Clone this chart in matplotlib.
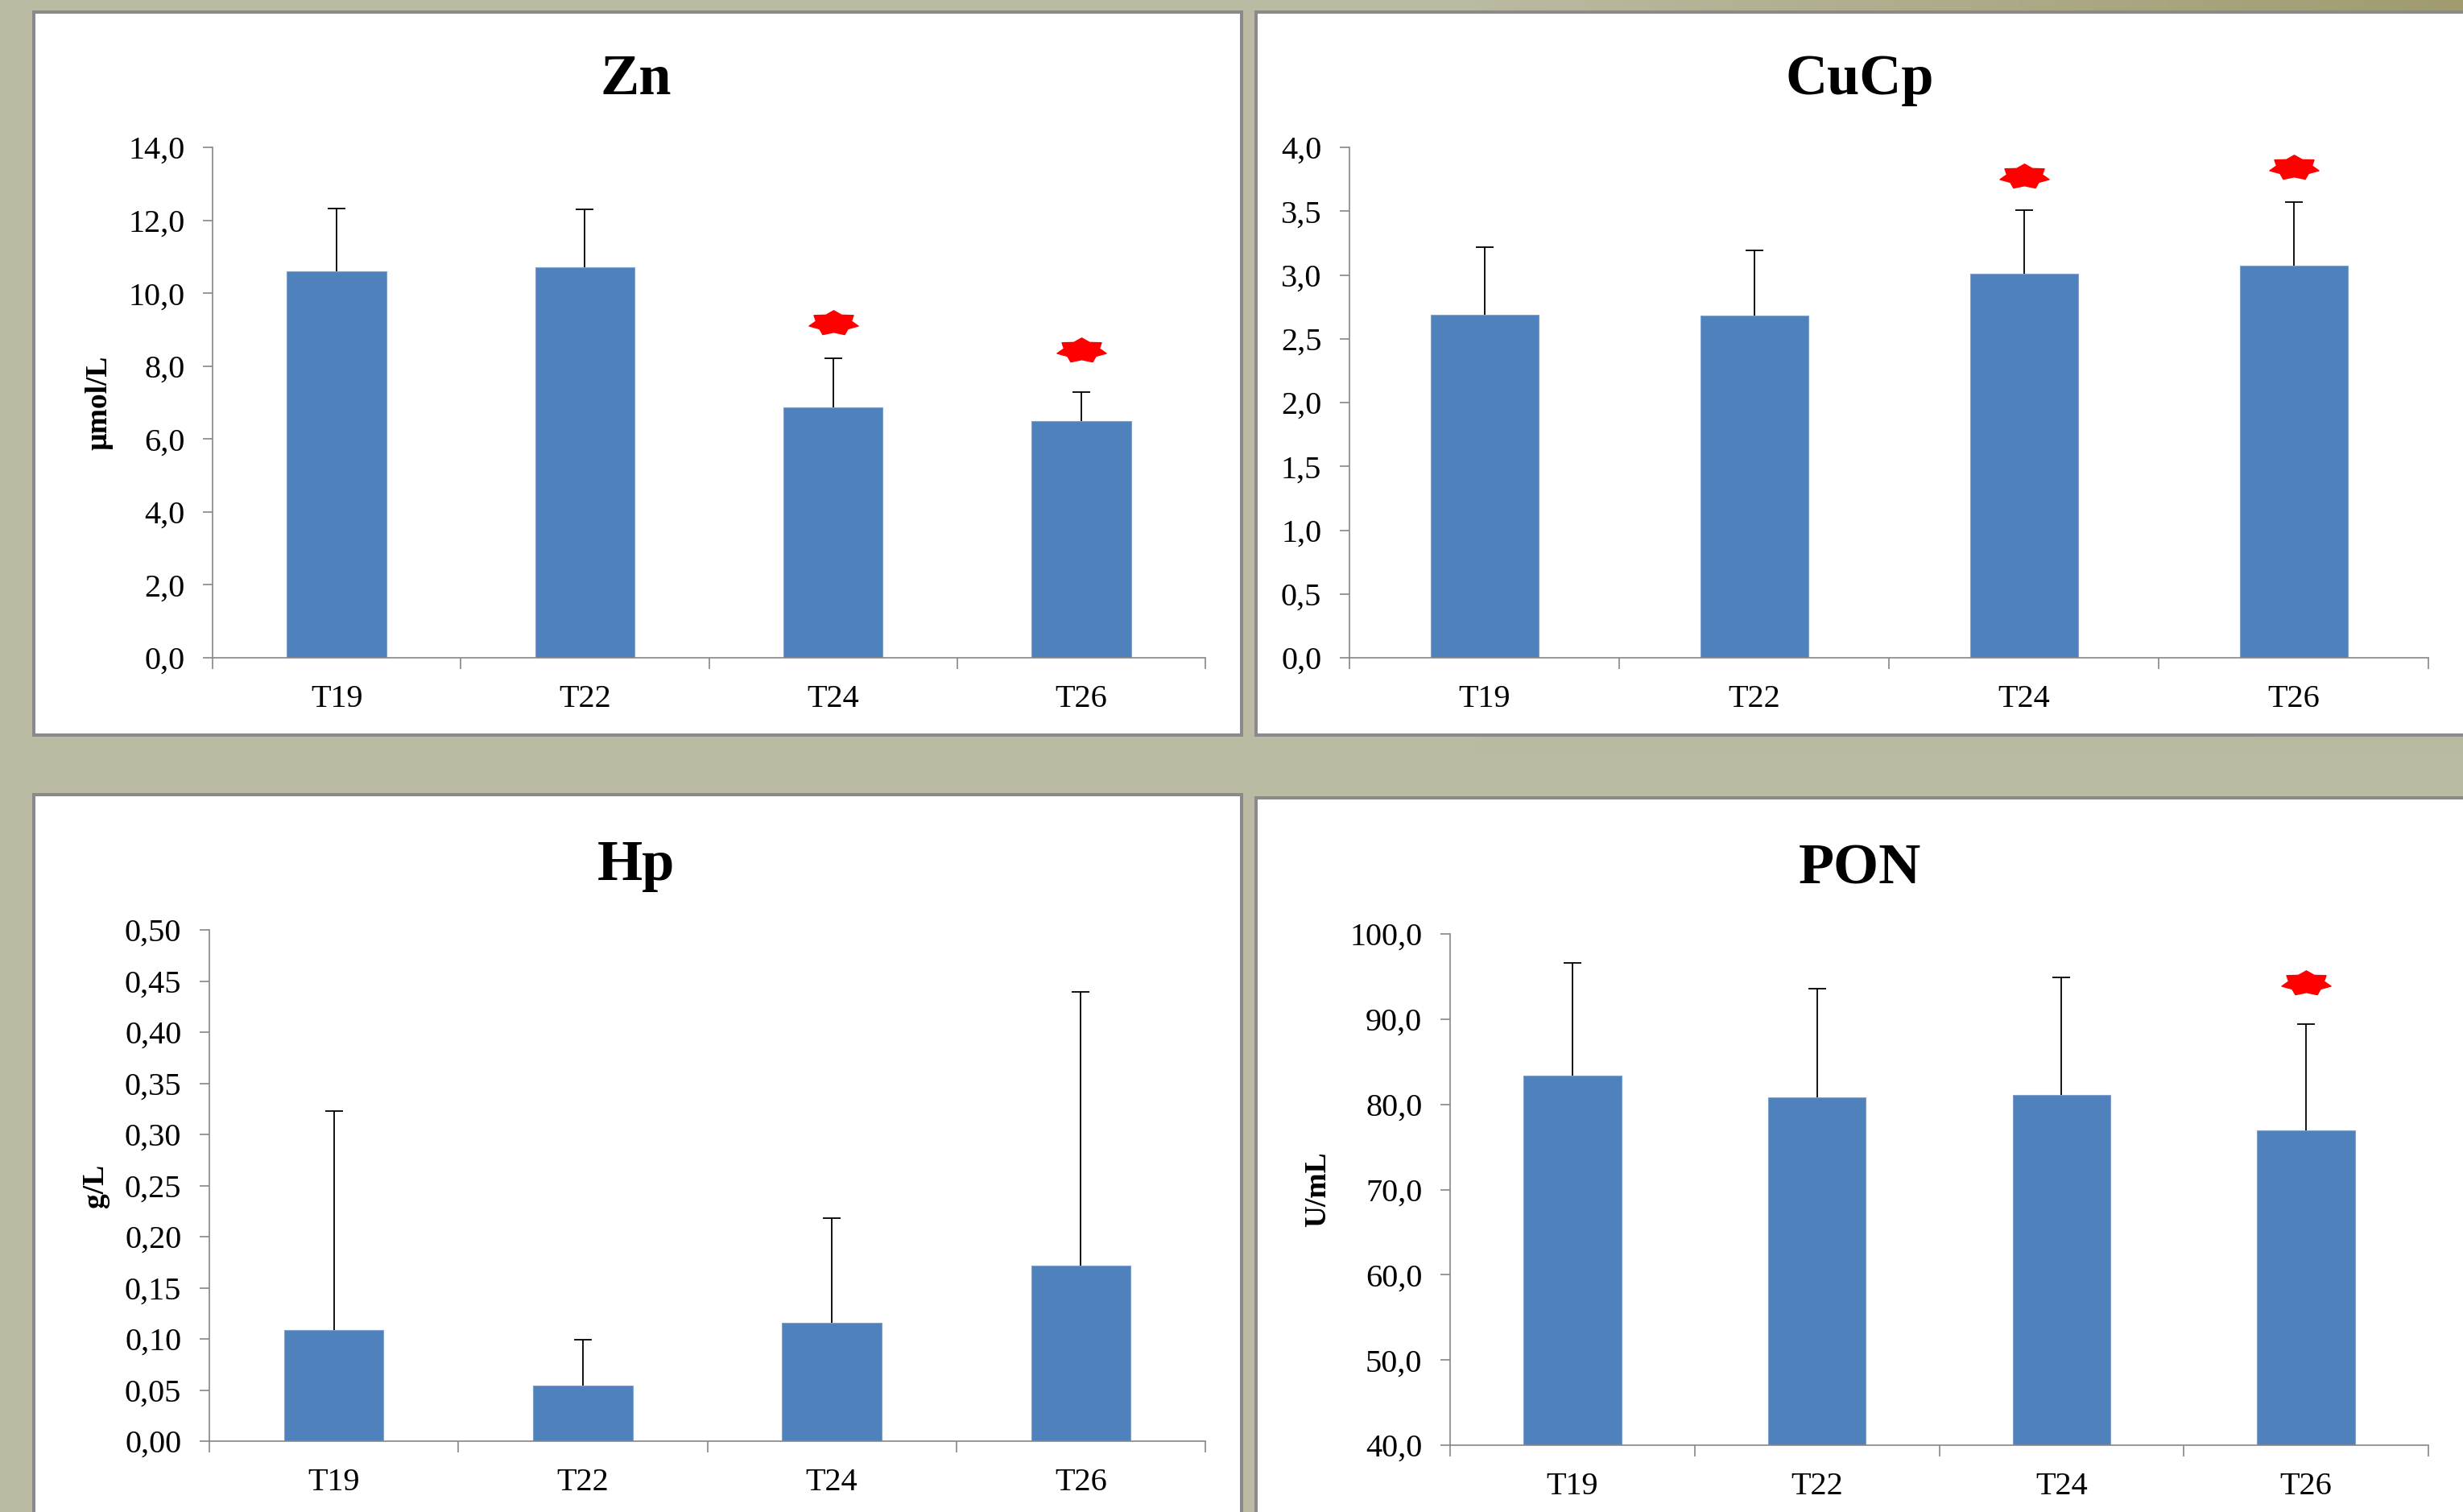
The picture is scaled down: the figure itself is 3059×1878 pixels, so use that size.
import numpy as np
import matplotlib
matplotlib.use("Agg")
import matplotlib.pyplot as plt
from matplotlib.patches import Rectangle
from matplotlib.path import Path
from matplotlib.ticker import FixedLocator, FuncFormatter

# ---------------- data ----------------
categories = ["T19", "T22", "T24", "T26"]

zn_mean = [10.61, 10.70, 6.86, 6.50]
zn_sd = [1.71, 1.59, 1.36, 0.79]
zn_star = [None, None, 9.18, 8.44]

cucp_mean = [2.69, 2.68, 3.01, 3.07]
cucp_sd = [0.53, 0.51, 0.50, 0.50]
cucp_star = [None, None, 3.77, 3.84]

hp_mean = [0.109, 0.054, 0.116, 0.172]
hp_sd = [0.214, 0.045, 0.102, 0.267]
hp_star = [None, None, None, None]

pon_mean = [83.4, 80.8, 81.1, 76.9]
pon_sd = [13.2, 12.8, 13.8, 12.5]
pon_star = [None, None, None, 94.2]

zn_ticks = [0, 2, 4, 6, 8, 10, 12, 14]
cucp_ticks = [0, 0.5, 1.0, 1.5, 2.0, 2.5, 3.0, 3.5, 4.0]
hp_ticks = [0, 0.05, 0.10, 0.15, 0.20, 0.25, 0.30, 0.35, 0.40, 0.45, 0.50]
pon_ticks = [40, 50, 60, 70, 80, 90, 100]

# ---------------- style ----------------
W, H = 3059, 1878
DPI = 100
SERIF = ["Liberation Serif", "DejaVu Serif"]
plt.rcParams["font.family"] = SERIF

BAR = "#4F81BD"
AXC = "#868686"

fig = plt.figure(figsize=(W / DPI, H / DPI), dpi=DPI)
fig.patch.set_facecolor("#BCBAA2")

# subtle background gradient (toward olive at top right)
bg = fig.add_axes([0, 0, 1, 1], zorder=-10)
gx = np.linspace(0, 1, 200)
gy = np.linspace(0, 1, 120)
GX, GY = np.meshgrid(gx, gy)
t = np.clip((GX - 0.6) / 0.4, 0, 1) * np.clip((GY - 0.5) / 0.5, 0, 1)
c0 = np.array([187, 186, 162]) / 255.0
c1 = np.array([160, 156, 112]) / 255.0
img = c0[None, None, :] * (1 - t[..., None]) + c1[None, None, :] * t[..., None]
bg.imshow(img, extent=[0, 1, 0, 1], origin="lower", aspect="auto")
bg.set_axis_off()


def px_rect(x0, y0, x1, y1):
    return (x0 / W, 1 - y1 / H, (x1 - x0) / W, (y1 - y0) / H)


# white panels
for (x0, y0, x1, y1) in [(42, 15, 1542, 913), (1560, 15, 3080, 913),
                         (42, 987, 1542, 1900), (1560, 991, 3080, 1900)]:
    fx, fy, fw, fh = px_rect(x0, y0, x1, y1)
    fig.patches.append(Rectangle((fx, fy), fw, fh, transform=fig.transFigure,
                                 facecolor="white", edgecolor="#8A8A8A",
                                 linewidth=2.9, zorder=-5))

# 7-point flattened star marker
ang = np.deg2rad(90 + np.arange(14) * 360 / 14)
rad = np.where(np.arange(14) % 2 == 0, 1.0, 0.72)
sv = np.column_stack([rad * np.cos(ang), 0.5 * rad * np.sin(ang)])
sv = np.vstack([sv, sv[:1]])
star_path = Path(sv, [Path.MOVETO] + [Path.LINETO] * 13 + [Path.CLOSEPOLY])


def panel(rect_px, means, sds, stars, ticks, ylim, fmt, ylabel, lab_x):
    x0, y0, x1, y1 = rect_px
    ax = fig.add_axes(px_rect(x0, y0, x1, y1))
    ax.set_facecolor("none")
    xs = np.arange(len(categories))
    bottom = ylim[0]
    heights = [m - bottom for m in means]
    ax.bar(xs, heights, width=0.4, bottom=bottom, color=BAR,
           edgecolor="#7EA0CC", linewidth=0.8, zorder=2)
    tops = np.array(means) + np.array(sds)
    ax.vlines(xs, means, tops, colors="black", linewidth=1.3, zorder=3)
    ax.plot(xs, tops, marker="_", markersize=16, markeredgewidth=1.3,
            color="black", linestyle="none", zorder=3)
    for x, s in zip(xs, stars):
        if s is not None:
            ax.plot([x], [s], marker=star_path, markersize=44, color="#FF0000",
                    linestyle="none", zorder=4, clip_on=False)
    ax.set_xlim(-0.5, len(categories) - 0.5)
    ax.set_ylim(*ylim)
    for sp in ["top", "right"]:
        ax.spines[sp].set_visible(False)
    for sp in ["left", "bottom"]:
        ax.spines[sp].set_color(AXC)
        ax.spines[sp].set_linewidth(1.2)
    ax.yaxis.set_major_locator(FixedLocator(ticks))
    ax.yaxis.set_major_formatter(FuncFormatter(lambda v, p: fmt.format(v).replace(".", ",")))
    ax.tick_params(axis="y", direction="out", length=9, width=1.2, color=AXC,
                   labelsize=29, pad=16, labelcolor="black")
    ax.set_xticks(np.arange(len(categories) + 1) - 0.5)
    ax.set_xticklabels([""] * (len(categories) + 1))
    ax.tick_params(axis="x", which="major", direction="out", length=10, width=1.2, color=AXC)
    ax.set_xticks(xs, minor=True)
    ax.set_xticklabels(categories, minor=True)
    ax.tick_params(axis="x", which="minor", length=0, labelsize=29, pad=24)
    if ylabel:
        ax.set_ylabel(ylabel, fontsize=27, fontweight="bold")
        ax.yaxis.set_label_coords(lab_x, 0.5)
    return ax


panel((264, 183, 1497, 817), zn_mean, zn_sd, zn_star, zn_ticks, (0, 14), "{:.1f}",
      "µmol/L", -0.100)
panel((1676, 183, 3016, 817), cucp_mean, cucp_sd, cucp_star, cucp_ticks, (0, 4), "{:.1f}",
      None, 0)
panel((260, 1155, 1497, 1790), hp_mean, hp_sd, hp_star, hp_ticks, (0, 0.5), "{:.2f}",
      "g/L", -0.1)
panel((1801, 1160, 3016, 1795), pon_mean, pon_sd, pon_star, pon_ticks, (40, 100), "{:.1f}",
      "U/mL", -0.121)

titles = [("Zn", 790, 117), ("CuCp", 2310, 117), ("Hp", 790, 1093), ("PON", 2310, 1098)]
for txt, tx, ty in titles:
    fig.text(tx / W, 1 - ty / H, txt, ha="center", va="baseline",
             fontsize=52, fontweight="bold", family=SERIF)

fig.savefig("out.png", dpi=DPI, facecolor=fig.get_facecolor())
